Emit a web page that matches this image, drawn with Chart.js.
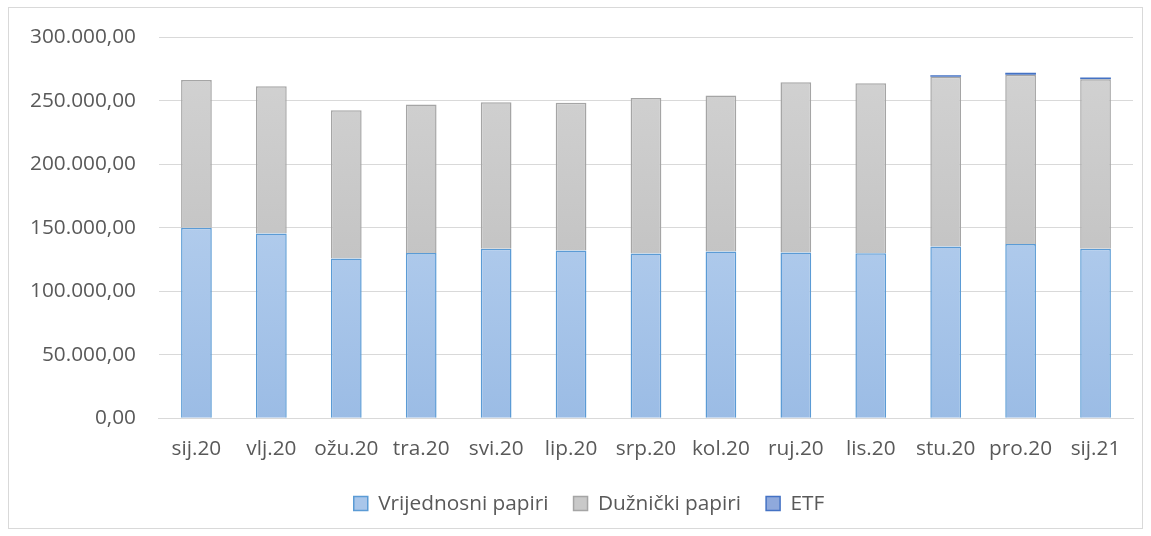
<!DOCTYPE html>
<html>
<head>
<meta charset="utf-8">
<script src="https://cdn.jsdelivr.net/npm/chart.js@4"></script>
<style>
  body { margin: 0; background: #fff; }
  #frame { position: absolute; left: 8px; top: 7px; width: 1135px; height: 522px; border: 1px solid #d9d9d9; box-sizing: border-box; }
  #wrap { position: absolute; left: 1px; top: -6px; width: 1133px; height: 527px; }
</style>
</head>
<body>
<div id="frame"><div id="wrap"><canvas id="barChart"></canvas></div></div>
<script>
// months
const months = ['sij.20','vlj.20','ožu.20','tra.20','svi.20','lip.20','srp.20','kol.20','ruj.20','lis.20','stu.20','pro.20','sij.21'];
// values (thousands)
const vrijednosni = [150.0, 145.6, 125.9, 130.1, 133.5, 132.2, 129.8, 131.4, 130.6, 129.9, 135.4, 137.2, 133.5];
const duznicki = [116.5, 116.0, 116.8, 117.0, 115.5, 116.3, 122.6, 122.8, 134.1, 134.0, 133.7, 133.5, 133.6];
const etf = [0, 0, 0, 0, 0, 0, 0, 0, 0, 0, 1.1, 1.5, 1.3];
const yTicks = [0, 50000, 100000, 150000, 200000, 250000, 300000];

const k = arr => arr.map(v => v * 1000);

function fmt(v) {
  const s = Math.round(v).toString().replace(/\B(?=(\d{3})+(?!\d))/g, '.');
  return s + ',00';
}

function grad(top, bottom, solid) {
  return function (ctx) {
    const area = ctx.chart.chartArea;
    if (!area) return solid;
    const g = ctx.chart.ctx.createLinearGradient(0, area.top, 0, area.bottom);
    g.addColorStop(0, top);
    g.addColorStop(1, bottom);
    return g;
  };
}

const txt = '#595959';
const font = { family: 'Open Sans', size: 20.8 };

// legend in the original sits a bit right of the canvas centre
const legendShift = {
  id: 'legendShift',
  afterLayout(chart) {
    chart.legend.left += 19;
    chart.legend.right += 19;
  }
};

new Chart(document.getElementById('barChart'), {
  type: 'bar',
  data: {
    labels: months,
    datasets: [{
      label: 'Vrijednosni papiri',
      data: k(vrijednosni),
      backgroundColor: grad('#c5daf3', '#9bbce5', '#a9c6ea'),
      borderColor: '#5b9bd5',
      borderWidth: 1.5
    }, {
      label: 'Dužnički papiri',
      data: k(duznicki),
      backgroundColor: grad('#d4d4d4', '#b8b8b8', '#c9c9c9'),
      borderColor: '#a5a5a5',
      borderWidth: 1.5
    }, {
      label: 'ETF',
      data: k(etf),
      backgroundColor: '#4472c4',
      borderColor: '#4472c4',
      borderWidth: 0
    }]
  },
  plugins: [legendShift],
  options: {
    responsive: true,
    maintainAspectRatio: false,
    animation: false,
    layout: { padding: { left: -3, right: 10, top: 16, bottom: 5 } },
    datasets: { bar: { barPercentage: 0.41, categoryPercentage: 1 } },
    scales: {
      x: {
        stacked: true,
        grid: { display: false, drawTicks: false },
        border: { color: '#d9d9d9' },
        ticks: { color: txt, font: font, padding: 18, maxRotation: 0 },
        afterFit: axis => { axis.height -= 11; }
      },
      y: {
        stacked: true,
        min: 0,
        max: 300000,
        afterBuildTicks: axis => { axis.ticks = yTicks.map(v => ({ value: v })); },
        grid: { color: '#d9d9d9', drawTicks: false },
        border: { display: false },
        ticks: { color: txt, font: font, padding: 23, callback: v => fmt(v) }
      }
    },
    plugins: {
      tooltip: { enabled: false },
      legend: {
        position: 'bottom',
        labels: {
          color: txt,
          font: font,
          boxWidth: 14,
          boxHeight: 14,
          padding: 25,
          generateLabels: chart => [
            ['#a9c6ea', '#5b9bd5'], ['#c9c9c9', '#a5a5a5'], ['#8fa9dc', '#4472c4']
          ].map((c, i) => ({
            text: chart.data.datasets[i].label,
            fillStyle: c[0],
            strokeStyle: c[1],
            lineWidth: 1.5,
            datasetIndex: i,
            fontColor: txt
          }))
        }
      }
    }
  }
});
</script>
</body>
</html>
